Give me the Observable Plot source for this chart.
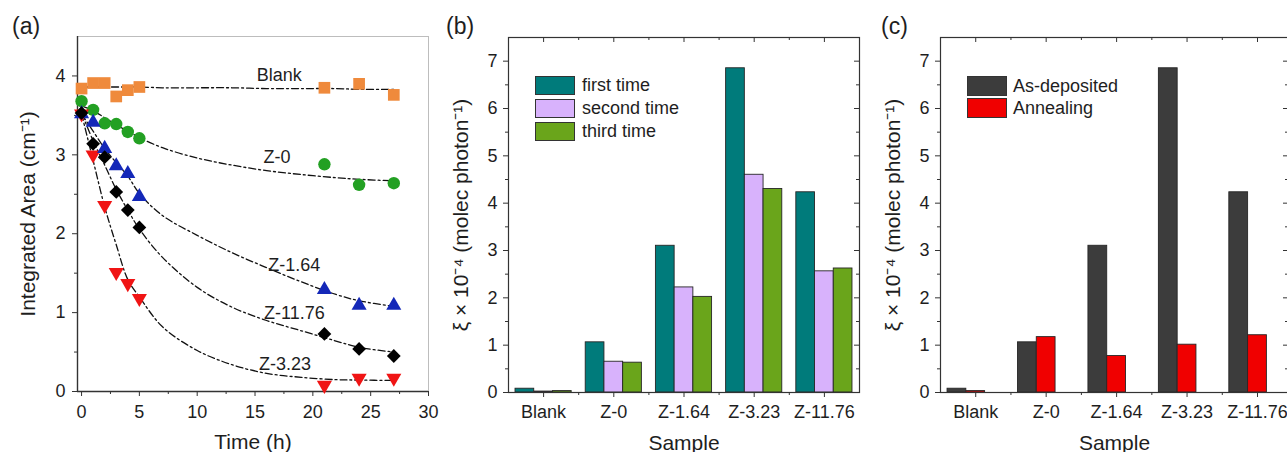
<!DOCTYPE html>
<html>
<head>
<meta charset="utf-8">
<script src="https://cdn.jsdelivr.net/npm/d3@7"></script>
<script src="https://cdn.jsdelivr.net/npm/@observablehq/plot@0.6"></script>
<style>
  html, body { margin: 0; padding: 0; background: #fff; }
  #wrap { position: relative; width: 1287px; height: 452px; overflow: hidden; background: #fff;
          font-family: "Liberation Sans", Arial, Helvetica, sans-serif; color: #1e1e1e; }
  .panel { position: absolute; top: 0; }
  .panel svg { max-width: none !important; display: block; }
  .tag { position: absolute; font-size: 23px; line-height: 1; }
  .legend { position: absolute; font-size: 18px; }
  .legend .row { position: absolute; left: 0; display: flex; align-items: center; white-space: nowrap; }
  .legend .box { box-sizing: border-box; border: 1px solid #333; }
</style>
</head>
<body>
<div id="wrap"></div>
<script>
// ---------------- data: panel (a) ----------------
const times = [0, 1, 2, 3, 4, 5, 21, 24, 27];
const blankArea = [3.84, 3.91, 3.91, 3.74, 3.82, 3.86, 3.85, 3.90, 3.76];
const z0Area    = [3.68, 3.57, 3.40, 3.39, 3.29, 3.21, 2.88, 2.62, 2.64];
const z164Area  = [3.52, 3.41, 3.08, 2.86, 2.76, 2.47, 1.29, 1.09, 1.09];
const z1176Area = [3.53, 3.14, 2.97, 2.53, 2.30, 2.08, 0.73, 0.54, 0.45];
const z323Area  = [3.52, 3.00, 2.36, 1.51, 1.37, 1.18, 0.08, 0.17, 0.17];

// fitted (dash-dot) curves
const fitTimes = [0, 1, 2, 3, 4, 5, 7, 10, 13, 16, 19, 22, 24, 27];
const blankFit = [3.86, 3.86, 3.86, 3.86, 3.86, 3.86, 3.85, 3.85, 3.85, 3.84, 3.84, 3.84, 3.83, 3.83];
const z0Fit    = [3.62, 3.56, 3.47, 3.38, 3.30, 3.22, 3.09, 2.96, 2.87, 2.80, 2.75, 2.71, 2.69, 2.67];
const z164Fit  = [3.52, 3.30, 3.08, 2.90, 2.73, 2.51, 2.23, 1.98, 1.76, 1.57, 1.39, 1.23, 1.15, 1.08];
const z1176Fit = [3.53, 3.18, 2.87, 2.56, 2.30, 2.06, 1.70, 1.32, 1.07, 0.90, 0.77, 0.64, 0.56, 0.50];
const z323Fit  = [3.52, 2.93, 2.34, 1.86, 1.42, 1.20, 0.82, 0.52, 0.34, 0.23, 0.18, 0.15, 0.145, 0.14];

const curveNames = ["Blank", "Z-0", "Z-1.64", "Z-11.76", "Z-3.23"];
const curveLabelT = [17.1, 16.9, 18.4, 18.4, 17.6];
const curveLabelV = [4.01, 2.97, 1.60, 0.99, 0.34];

const timeTicks = [0, 5, 10, 15, 20, 25, 30];
const timeMinor = [2.5, 7.5, 12.5, 17.5, 22.5, 27.5];
const areaTicks = [0, 1, 2, 3, 4];
const areaMinor = [0.5, 1.5, 2.5, 3.5];

// ---------------- data: panels (b) and (c) ----------------
const samples = ["Blank", "Z-0", "Z-1.64", "Z-3.23", "Z-11.76"];
const firstTime  = [0.08, 1.06, 3.10, 6.85, 4.23];
const secondTime = [0.02, 0.65, 2.22, 4.60, 2.56];
const thirdTime  = [0.03, 0.63, 2.02, 4.30, 2.62];
const asDeposited = [0.08, 1.06, 3.10, 6.85, 4.23];
const annealing   = [0.03, 1.17, 0.77, 1.01, 1.21];

const xiTicks = [0, 1, 2, 3, 4, 5, 6, 7];
const xiMinor = [0.5, 1.5, 2.5, 3.5, 4.5, 5.5, 6.5];
const catTicks = [0, 1, 2, 3, 4];
const catMinor = [0.5, 1.5, 2.5, 3.5];

// ---------------- common styling ----------------
const FONT = '"Liberation Sans", Arial, Helvetica, sans-serif';
const INK = "#1e1e1e";
const AX = "#333";
const H = 452;
const intFmt = d3.format("d");
const wrap = document.getElementById("wrap");

function place(node, left) {
  const d = document.createElement("div");
  d.className = "panel";
  d.style.left = left + "px";
  d.appendChild(node);
  wrap.appendChild(d);
}
function tag(text, left, top) {
  const d = document.createElement("div");
  d.className = "tag";
  d.style.left = left + "px";
  d.style.top = top + "px";
  d.textContent = text;
  wrap.appendChild(d);
}
function legend(items, left, top, rowH, boxW, boxH, gap) {
  const L = document.createElement("div");
  L.className = "legend";
  L.style.left = left + "px";
  L.style.top = top + "px";
  items.forEach((it, k) => {
    const r = document.createElement("div");
    r.className = "row";
    r.style.top = (k * rowH) + "px";
    const b = document.createElement("div");
    b.className = "box";
    b.style.width = boxW + "px";
    b.style.height = boxH + "px";
    b.style.background = it.color;
    const t = document.createElement("span");
    t.textContent = it.name;
    t.style.marginLeft = gap + "px";
    t.style.lineHeight = boxH + "px";
    r.appendChild(b); r.appendChild(t);
    L.appendChild(r);
  });
  wrap.appendChild(L);
}
const plotStyle = {fontFamily: FONT, fontSize: "18px", color: INK, background: "transparent", overflow: "visible"};

// ---------------- panel (a) ----------------
const rows = (xs, vs) => xs.map((t, i) => ({t, v: vs[i]}));
const mA = {top: 36, right: 12, bottom: 61, left: 77};
const wA = 440;
const xDomA = [-0.35, 30];
const yDomA = [0, 4.5];
const dashDot = {x: "t", y: "v", stroke: "#111", strokeWidth: 1.3, strokeDasharray: "7,3,2,3", curve: "catmull-rom"};

const plotA = Plot.plot({
  width: wA, height: H,
  marginTop: mA.top, marginRight: mA.right, marginBottom: mA.bottom, marginLeft: mA.left,
  x: {domain: xDomA},
  y: {domain: yDomA},
  style: plotStyle,
  marks: [
    Plot.frame({stroke: "#bdbdbd", strokeWidth: 1}),
    Plot.ruleY([yDomA[0]], {stroke: AX, strokeWidth: 1.4}),
    Plot.ruleX([xDomA[0]], {stroke: AX, strokeWidth: 1.4}),
    Plot.axisX({ticks: timeTicks, tickFormat: intFmt, tickSize: 5, tickPadding: 9, fontSize: 18, label: null, stroke: AX}),
    Plot.axisX({ticks: timeMinor, tickSize: 3, fill: "none", label: null, stroke: AX}),
    Plot.axisX({ticks: [], tickSize: 0, label: "Time (h)", labelAnchor: "center", labelArrow: "none", labelOffset: 57, fontSize: 21}),
    Plot.axisY({ticks: areaTicks, tickFormat: intFmt, tickSize: 5, tickPadding: 7, fontSize: 18, label: null, stroke: AX}),
    Plot.axisY({ticks: areaMinor, tickSize: 3, fill: "none", label: null, stroke: AX}),
    Plot.axisY({ticks: [], tickSize: 0, label: "Integrated Area (cm⁻¹)", labelAnchor: "center", labelArrow: "none", labelOffset: 57, fontSize: 21}),
    Plot.line(rows(fitTimes, blankFit), dashDot),
    Plot.line(rows(fitTimes, z0Fit), dashDot),
    Plot.line(rows(fitTimes, z164Fit), dashDot),
    Plot.line(rows(fitTimes, z1176Fit), dashDot),
    Plot.line(rows(fitTimes, z323Fit), dashDot),
    Plot.dot(rows(times, blankArea), {x: "t", y: "v", symbol: "square", r: 6.6, fill: "#ef8a3c"}),
    Plot.dot(rows(times, z0Area), {x: "t", y: "v", symbol: "circle", r: 6.2, fill: "#23a023"}),
    Plot.dot(rows(times, z323Area), {x: "t", y: "v", symbol: "triangle", r: 5.6, rotate: 180, fill: "#f01414"}),
    Plot.dot(rows(times, z164Area), {x: "t", y: "v", symbol: "triangle", r: 5.6, fill: "#1428b8"}),
    Plot.dot(rows(times, z1176Area), {x: "t", y: "v", symbol: "diamond2", r: 6.2, fill: "#000"}),
    Plot.text(curveNames.map((n, i) => ({n, t: curveLabelT[i], v: curveLabelV[i]})),
      {x: "t", y: "v", text: "n", fontSize: 18, fill: INK})
  ]
});
place(plotA, 0);
tag("(a)", 12, 15);

// ---------------- bar panels (b), (c) ----------------
const slotW = 0.8 / 3;
function barPanel({series, slots, width, margins, xDomain}) {
  const fw = width - margins.left - margins.right;
  const fh = H - margins.top - margins.bottom;
  const barMarks = series.map((s, j) =>
    Plot.rectY(samples.map((name, i) => ({i, v: s.values[i]})), {
      x1: d => d.i + slots[j] - slotW / 2,
      x2: d => d.i + slots[j] + slotW / 2,
      y: "v", fill: s.color, stroke: "#262626", strokeWidth: 0.9
    }));
  return Plot.plot({
    width, height: H,
    marginTop: margins.top, marginRight: margins.right, marginBottom: margins.bottom, marginLeft: margins.left,
    x: {domain: xDomain},
    y: {domain: [0, 7.5]},
    style: plotStyle,
    marks: [
      ...barMarks,
      Plot.frame({stroke: AX, strokeWidth: 1.2}),
      Plot.axisX({ticks: catTicks, tickFormat: i => samples[i], tickSize: 5, tickPadding: 8, fontSize: 18, label: null, stroke: AX}),
      Plot.axisX({ticks: catMinor, tickSize: 3, fill: "none", label: null, stroke: AX}),
      Plot.axisX({ticks: [], tickSize: 0, label: "Sample", labelAnchor: "center", labelArrow: "none", labelOffset: 57, fontSize: 21}),
      Plot.ruleX(catTicks, {insetBottom: fh - 5, stroke: AX}),
      Plot.ruleX(catMinor, {insetBottom: fh - 3, stroke: AX}),
      Plot.axisY({ticks: xiTicks, tickFormat: intFmt, tickSize: 5, tickPadding: 6, fontSize: 18, label: null, stroke: AX}),
      Plot.axisY({ticks: xiMinor, tickSize: 3, fill: "none", label: null, stroke: AX}),
      Plot.axisY({ticks: [], tickSize: 0, label: "ξ × 10⁻⁴ (molec photon⁻¹)", labelAnchor: "center", labelArrow: "none", labelOffset: 55, fontSize: 21}),
      Plot.ruleY(xiTicks.slice(1), {insetLeft: fw - 5, stroke: AX}),
      Plot.ruleY(xiMinor, {insetLeft: fw - 3, stroke: AX})
    ]
  });
}

const seriesB = [
  {name: "first time", values: firstTime, color: "#007b7b"},
  {name: "second time", values: secondTime, color: "#d8b2fc"},
  {name: "third time", values: thirdTime, color: "#6aa51b"}
];
const plotB = barPanel({
  series: seriesB, slots: [-slotW, 0, slotW], width: 440,
  margins: {top: 37, right: 21, bottom: 60, left: 68}, xDomain: [-0.5, 4.5]
});
place(plotB, 440);
tag("(b)", 446, 15);
legend(seriesB, 535, 76, 23, 40, 19, 7);

const seriesC = [
  {name: "As-deposited", values: asDeposited, color: "#3c3c3c"},
  {name: "Annealing", values: annealing, color: "#f00000"}
];
const plotC = barPanel({
  series: seriesC, slots: [-slotW, 0], width: 430,
  margins: {top: 37, right: 12, bottom: 60, left: 70}, xDomain: [-0.5, 4.44]
});
place(plotC, 870);
tag("(c)", 881, 15);
legend(seriesC, 967, 76, 22, 40, 20, 6);
</script>
</body>
</html>
